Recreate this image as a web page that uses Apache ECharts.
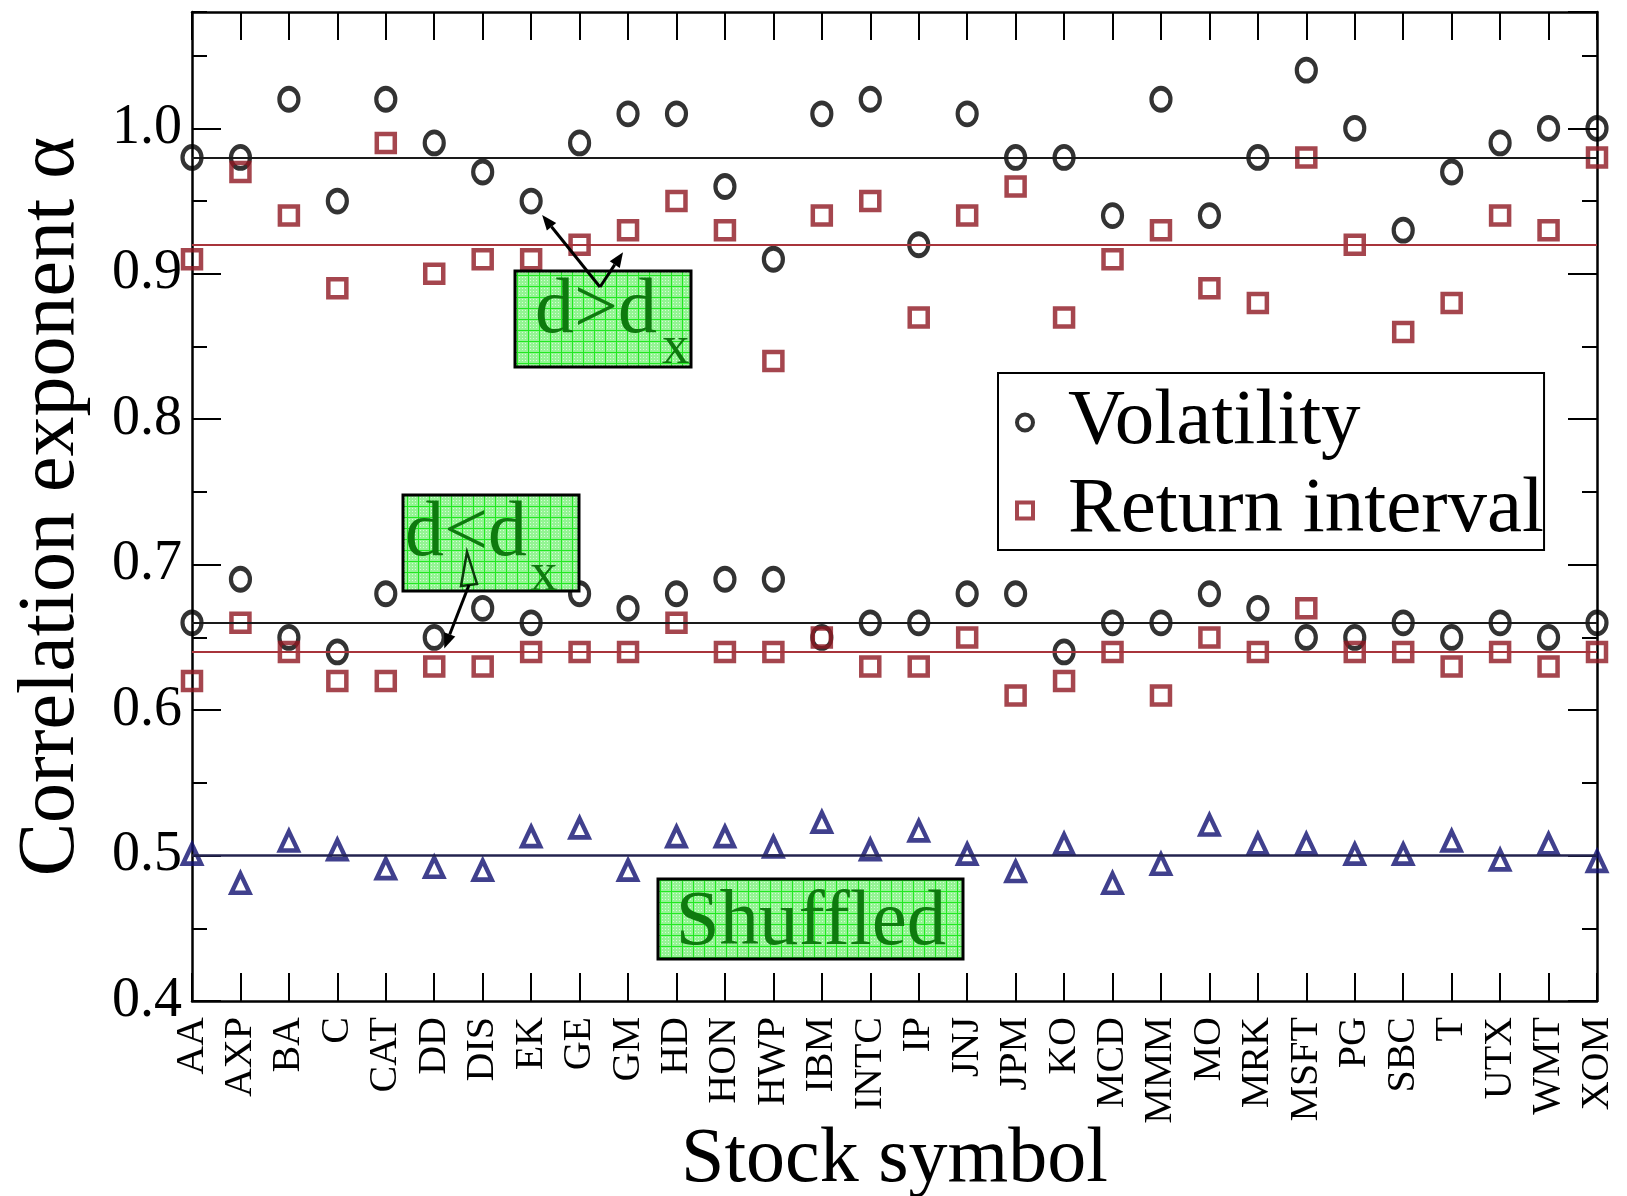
<!DOCTYPE html>
<html>
<head>
<meta charset="utf-8">
<title>Correlation exponent by stock</title>
<script src="https://cdn.jsdelivr.net/npm/echarts@6/dist/echarts.min.js"></script>
<style>
  html, body { margin: 0; padding: 0; background: #fff; }
  #chart { width: 1627px; height: 1196px; }
</style>
</head>
<body>
<div id="chart"></div>
<script>
// Stock symbols along the x axis
const symbols = ['AA','AXP','BA','C','CAT','DD','DIS','EK','GE','GM','HD','HON','HWP','IBM','INTC',
  'IP','JNJ','JPM','KO','MCD','MMM','MO','MRK','MSFT','PG','SBC','T','UTX','WMT','XOM'];

// Correlation exponent for large window sizes (d > d_x)
const volatilityLarge = [0.98,0.98,1.02,0.95,1.02,0.99,0.97,0.95,0.99,1.01,1.01,0.96,0.91,1.01,1.02,
  0.92,1.01,0.98,0.98,0.94,1.02,0.94,0.98,1.04,1.00,0.93,0.97,0.99,1.00,1.00];
const returnLarge = [0.91,0.97,0.94,0.89,0.99,0.90,0.91,0.91,0.92,0.93,0.95,0.93,0.84,0.94,0.95,
  0.87,0.94,0.96,0.87,0.91,0.93,0.89,0.88,0.98,0.92,0.86,0.88,0.94,0.93,0.98];

// Correlation exponent for small window sizes (d < d_x)
const volatilitySmall = [0.66,0.69,0.65,0.64,0.68,0.65,0.67,0.66,0.68,0.67,0.68,0.69,0.69,0.65,0.66,
  0.66,0.68,0.68,0.64,0.66,0.66,0.68,0.67,0.65,0.65,0.66,0.65,0.66,0.65,0.66];
const returnSmall = [0.62,0.66,0.64,0.62,0.62,0.63,0.63,0.64,0.64,0.64,0.66,0.64,0.64,0.65,0.63,
  0.63,0.65,0.61,0.62,0.64,0.61,0.65,0.64,0.67,0.64,0.64,0.63,0.64,0.63,0.64];

// Shuffled records
const shuffled = [0.501,0.481,0.510,0.504,0.491,0.492,0.490,0.513,0.519,0.490,0.513,0.513,0.506,0.523,0.504,
  0.517,0.501,0.489,0.508,0.481,0.494,0.521,0.508,0.508,0.501,0.501,0.510,0.497,0.508,0.496];

// Average levels drawn as horizontal lines
const levelVolatilityLarge = [0.982];
const levelReturnLarge = [0.921];
const levelVolatilitySmall = [0.663];
const levelReturnSmall = [0.636];
const levelShuffled = [0.5];

const SERIF = '"Liberation Serif", "Times New Roman", serif';
const CIRCLE = 'path://M0,-10A10,10,0,1,1,0,10A10,10,0,1,1,0,-10Z';
const SQUARE = 'path://M0,0L10,0L10,10L0,10Z';
const TRIANGLE = 'path://M5,0L10,10L0,10Z';

const BLACK = '#000000';
const RED = '#8e1822';
const BLUE = '#101070';

const chart = echarts.init(document.getElementById('chart'), null, { renderer: 'canvas' });

function level(values, color, width) {
  return {
    silent: true,
    symbol: ['none', 'none'],
    label: { show: false },
    lineStyle: { color: color, width: width, type: 'solid' },
    data: values.map(v => ({ yAxis: v }))
  };
}

function scatter(name, data, symbol, size, color, extra) {
  return Object.assign({
    name: name,
    type: 'scatter',
    data: data,
    symbol: symbol,
    symbolSize: size,
    itemStyle: { color: 'rgba(0,0,0,0)', borderColor: color, borderWidth: 4.5 },
    emphasis: { disabled: true },
    z: 3
  }, extra || {});
}

const yBase = { type: 'value', min: 0.4, max: 1.08, scale: true, splitLine: { show: false } };
const axisLine = { show: true, lineStyle: { color: BLACK, width: 2.5 } };

chart.setOption({
  animation: false,
  backgroundColor: '#ffffff',
  grid: { left: 192, right: 30, top: 12, bottom: 195, containLabel: false, outerBoundsMode: 'none' },
  xAxis: [
    {
      type: 'category', data: symbols, boundaryGap: false, position: 'bottom',
      axisLine: axisLine,
      axisTick: { show: true, inside: true, length: 28, interval: 0, lineStyle: { color: BLACK, width: 2 } },
      axisLabel: { interval: 0, rotate: 90, margin: 16, fontSize: 40, fontFamily: SERIF, color: BLACK },
      name: 'Stock symbol', nameLocation: 'middle', nameGap: 121, nameMoveOverlap: false,
      nameTextStyle: { fontSize: 78, fontFamily: SERIF, color: BLACK }
    },
    {
      type: 'category', data: symbols, boundaryGap: false, position: 'top',
      axisLine: axisLine,
      axisTick: { show: true, inside: true, length: 28, interval: 0, lineStyle: { color: BLACK, width: 2 } },
      axisLabel: { show: false }
    }
  ],
  yAxis: [
    Object.assign({}, yBase, {
      position: 'left', interval: 0.1,
      axisLine: axisLine,
      axisTick: { show: true, inside: true, length: 29, lineStyle: { color: BLACK, width: 2 } },
      axisLabel: { margin: 10, fontSize: 56, fontFamily: SERIF, color: BLACK, showMaxLabel: false,
        formatter: v => v.toFixed(1) },
      name: 'Correlation exponent \u03b1', nameLocation: 'middle', nameRotate: 90, nameGap: 100,
      nameMoveOverlap: false,
      nameTextStyle: { fontSize: 80, fontFamily: SERIF, color: BLACK }
    }),
    Object.assign({}, yBase, {
      position: 'left', interval: 0.05,
      axisLine: { show: false },
      axisTick: { show: true, inside: true, length: 15, lineStyle: { color: BLACK, width: 2 } },
      axisLabel: { show: false }
    }),
    Object.assign({}, yBase, {
      position: 'right', interval: 0.1,
      axisLine: axisLine,
      axisTick: { show: true, inside: true, length: 29, lineStyle: { color: BLACK, width: 2 } },
      axisLabel: { show: false }
    }),
    Object.assign({}, yBase, {
      position: 'right', interval: 0.05,
      axisLine: { show: false },
      axisTick: { show: true, inside: true, length: 15, lineStyle: { color: BLACK, width: 2 } },
      axisLabel: { show: false }
    })
  ],
  legend: {
    show: true,
    orient: 'vertical',
    left: 998, top: 373,
    padding: [10, 0, 0, 17],
    itemGap: 9,
    itemWidth: 16, itemHeight: 19,
    selectedMode: false,
    borderColor: BLACK, borderWidth: 2,
    backgroundColor: '#ffffff',
    itemStyle: { borderWidth: 4 },
    textStyle: { fontSize: 79, fontFamily: SERIF, color: BLACK, lineHeight: 77, padding: [0, 0, 0, 30] },
    data: ['Volatility', 'Return interval']
  },
  series: [
    scatter('Volatility', volatilityLarge, CIRCLE, [19, 22], BLACK,
      { markLine: level(levelVolatilityLarge, '#1a1a1a', 2) }),
    scatter('Return interval', returnLarge, SQUARE, [18, 18], RED,
      { markLine: level(levelReturnLarge, '#a8343b', 2) }),
    scatter('Volatility', volatilitySmall, CIRCLE, [19, 22], BLACK,
      { markLine: level(levelVolatilitySmall, '#1a1a1a', 2) }),
    scatter('Return interval', returnSmall, SQUARE, [18, 18], RED,
      { markLine: level(levelReturnSmall, '#a8343b', 2) }),
    scatter('Shuffled', shuffled, TRIANGLE, [18, 19], BLUE,
      { markLine: level(levelShuffled, '#23234f', 2.5) })
  ]
});

// ---- annotation boxes and arrows ----
function gridPattern() {
  const c = document.createElement('canvas');
  c.width = 11; c.height = 11;
  const g = c.getContext('2d');
  g.fillStyle = '#93f493';
  g.fillRect(0, 0, 11, 11);
  g.fillStyle = '#d6fdd6';
  for (let i = 2; i < 11; i += 3) for (let j = 2; j < 11; j += 3) g.fillRect(i, j, 1, 1);
  g.fillStyle = '#22e822';
  g.fillRect(0, 0, 11, 1);
  g.fillRect(0, 0, 1, 11);
  return c;
}
const pattern = { image: gridPattern(), repeat: 'repeat' };
const GREEN_TEXT = '#0e7a0e';

function box(x, y, w, h) {
  return { type: 'rect', z: 10, shape: { x: x, y: y, width: w, height: h },
    style: { fill: pattern, stroke: BLACK, lineWidth: 3 } };
}
function label(text, x, y, size, align) {
  return { type: 'text', z: 11, style: { text: text, x: x, y: y, fontSize: size, fontFamily: SERIF,
    fill: GREEN_TEXT, align: align || 'left', verticalAlign: 'middle' } };
}
function arrow(from, tip, color) {
  const dx = tip[0] - from[0], dy = tip[1] - from[1];
  const len = Math.sqrt(dx * dx + dy * dy);
  const ux = dx / len, uy = dy / len;
  const hl = 15, hw = 6;
  const bx = tip[0] - ux * hl, by = tip[1] - uy * hl;
  return [
    { type: 'polyline', z: 12, shape: { points: [from, [bx, by]] }, style: { stroke: color, lineWidth: 3 } },
    { type: 'polygon', z: 12, shape: { points: [tip, [bx - uy * hw, by + ux * hw], [bx + uy * hw, by - ux * hw]] },
      style: { fill: color } }
  ];
}
const px = (i, v) => chart.convertToPixel({ xAxisIndex: 0, yAxisIndex: 0 }, [i, v]);

const ekPt = px(7, volatilityLarge[7]);
const gmPt = px(9, returnLarge[9]);
const ddPt = px(5, volatilitySmall[5]);

const graphics = [];
// d > d_x
graphics.push(box(515, 271, 176, 96));
graphics.push(label('d>d', 535, 312, 78));
graphics.push(label('x', 662, 349, 55));
graphics.push(...arrow([600, 287], [ekPt[0] + 11, ekPt[1] + 14], '#000'));
graphics.push(...arrow([600, 287], [gmPt[0] - 5, gmPt[1] + 22], '#000'));
// d < d_x
graphics.push(box(403, 495, 176, 96));
graphics.push(label('d<d', 405, 535, 78));
graphics.push(label('x', 530, 576, 55));
graphics.push({ type: 'polygon', z: 12, shape: { points: [[467, 552], [477, 584], [461, 586]] },
  style: { fill: 'none', stroke: '#0b3b0b', lineWidth: 2.5 } });
graphics.push(...arrow([469, 585], [ddPt[0] + 10, ddPt[1] + 11], '#000'));
// shuffled
graphics.push(box(658, 879, 305, 80));
graphics.push(label('Shuffled', 811, 923, 79, 'center'));

chart.setOption({ graphic: graphics });
</script>
</body>
</html>
